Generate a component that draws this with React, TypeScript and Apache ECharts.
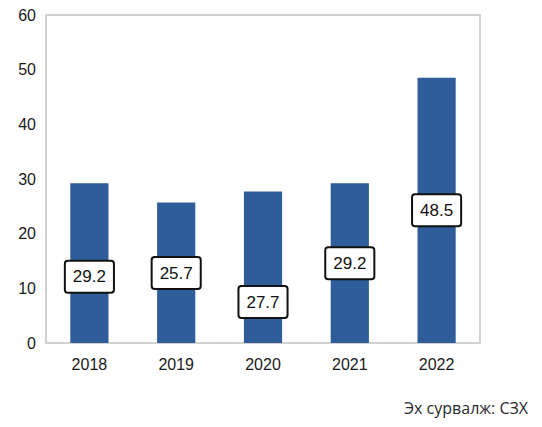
import React, { useEffect, useRef } from "react";
import * as echarts from "echarts";

const categories = ["2018", "2019", "2020", "2021", "2022"];
const values = [29.2, 25.7, 27.7, 29.2, 48.5];
// vertical position (in axis units) where each value box sits
const labelAnchors = [12.1, 12.8, 7.5, 14.6, 24.3];
const yTicks = [0, 10, 20, 30, 40, 50, 60];
const sourceText = "Эх сурвалж: СЗХ";

export default function App() {
  const ref = useRef<HTMLDivElement>(null);
  useEffect(() => {
    if (!ref.current) return;
    const chart = echarts.init(ref.current, null, { renderer: "svg" });
    chart.setOption({
      animation: false,
      backgroundColor: "#ffffff",
      grid: {
        left: 46,
        right: 62,
        top: 15,
        bottom: 84,
        show: true,
        borderColor: "#c4c4c4",
        borderWidth: 1.5,
      },
      xAxis: {
        type: "category",
        data: categories,
        axisLine: { show: false },
        axisTick: { show: false },
        axisLabel: {
          margin: 13,
          fontSize: 16,
          color: "#1a1a1a",
          fontFamily: "Liberation Sans, Arial, sans-serif",
        },
      },
      yAxis: {
        type: "value",
        min: yTicks[0],
        max: yTicks[yTicks.length - 1],
        interval: 10,
        splitLine: { show: false },
        axisLine: { show: false },
        axisTick: { show: false },
        axisLabel: {
          margin: 10,
          fontSize: 16,
          color: "#1a1a1a",
          fontFamily: "Liberation Sans, Arial, sans-serif",
        },
      },
      series: [
        {
          type: "bar",
          data: values,
          barWidth: "44%",
          itemStyle: { color: "#2e5d99" },
          z: 2,
        },
        {
          type: "scatter",
          data: labelAnchors.map((v, i) => [categories[i], v]),
          symbolSize: 1,
          itemStyle: { opacity: 0 },
          z: 5,
          emphasis: { disabled: true },
          label: {
            show: true,
            position: "inside",
            opacity: 1,
            formatter: (p: any) => values[p.dataIndex].toFixed(1),
            fontSize: 17,
            color: "#111111",
            fontFamily: "Liberation Sans, Arial, sans-serif",
            backgroundColor: "#ffffff",
            borderColor: "#111111",
            borderWidth: 2,
            borderRadius: 2,
            padding: [7, 7, 6, 7],
          },
        },
      ],
      graphic: [
        {
          type: "text",
          x: 404,
          y: 400,
          style: {
            text: sourceText,
            fontSize: 16,
            fill: "#2a2a2a",
            fontFamily: "Open Sans, sans-serif",
          },
        },
      ],
    });
    return () => chart.dispose();
  }, []);
  return (
    <div style={{ position: "fixed", left: 0, top: 0, width: 542, height: 427 }}>
      <div ref={ref} style={{ width: 542, height: 427 }} />
    </div>
  );
}
